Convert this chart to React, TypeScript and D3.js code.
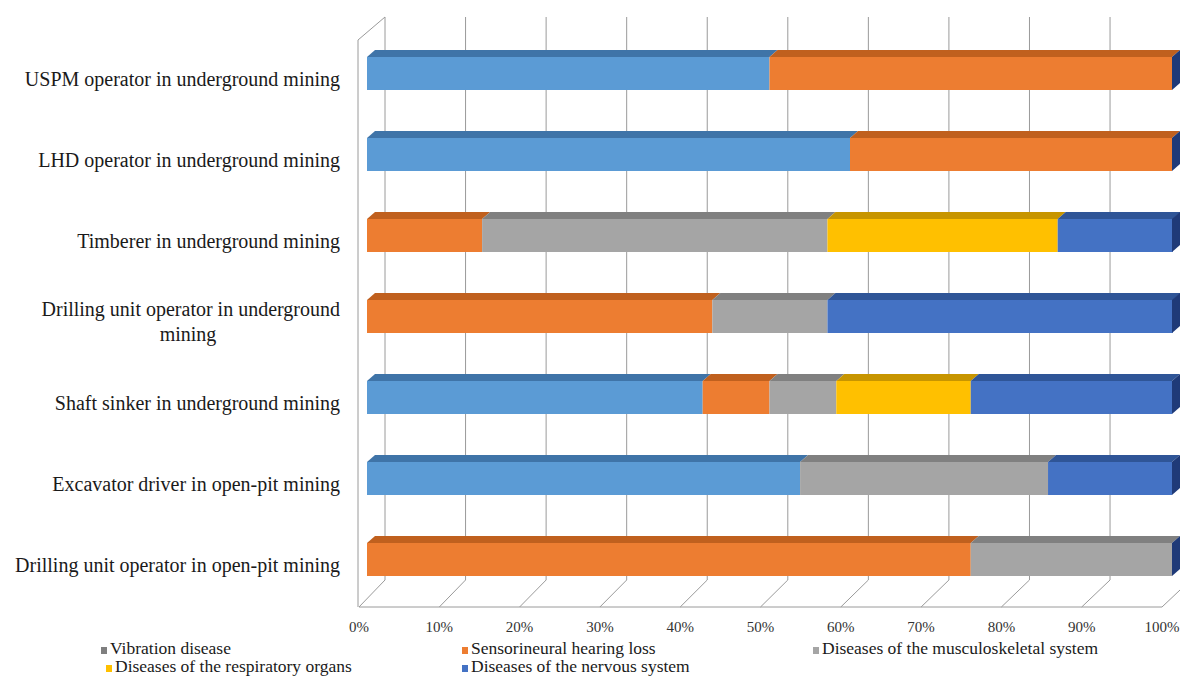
import React from "react";
import * as d3 from "d3";

const categories = [
  "USPM operator in underground mining",
  "LHD operator in underground mining",
  "Timberer in underground mining",
  "Drilling unit operator in underground mining",
  "Shaft sinker in underground mining",
  "Excavator driver in open-pit mining",
  "Drilling unit operator in open-pit mining",
];

const labelLines = [
  ["USPM operator in underground mining"],
  ["LHD operator in underground mining"],
  ["Timberer in underground mining"],
  ["Drilling unit operator in underground", "mining"],
  ["Shaft sinker in underground mining"],
  ["Excavator driver in open-pit mining"],
  ["Drilling unit operator in open-pit mining"],
];

const seriesNames = [
  "Vibration disease",
  "Sensorineural hearing loss",
  "Diseases of the musculoskeletal system",
  "Diseases of the respiratory organs",
  "Diseases of the nervous system",
];

const vibration = [50, 60, 0, 0, 41.7, 53.8, 0];
const hearing = [50, 40, 14.3, 42.9, 8.3, 0, 75];
const musculo = [0, 0, 42.9, 14.3, 8.3, 30.8, 25];
const respiratory = [0, 0, 28.6, 0, 16.7, 0, 0];
const nervous = [0, 0, 14.3, 42.9, 25, 15.4, 0];

const tickValues = [0, 10, 20, 30, 40, 50, 60, 70, 80, 90, 100];

const frontColors = ["#5B9BD5", "#ED7D31", "#A5A5A5", "#FFC000", "#4472C4"];
const topColors = ["#3F74A8", "#C0601E", "#808080", "#C79500", "#2F5597"];
const legendColors = ["#7F7F7F", "#ED7D31", "#A5A5A5", "#FFC000", "#4472C4"];

const SERIF = "Liberation Serif";

export default function App() {
  const W = 1180;
  const H = 677;

  const floorY = 607;
  const backFloorY = 580;
  const backTopY = 17;
  const xFront = d3.scaleLinear().domain([0, 100]).range([359, 1162]);
  const xBack = d3.scaleLinear().domain([0, 100]).range([385, 1190.6]);
  const xBar = d3.scaleLinear().domain([0, 100]).range([367, 1172]);
  const y = d3.scaleBand<number>().domain(d3.range(categories.length)).range([33, 600]).paddingInner(0);
  const barH = 33;
  const ddx = 8;
  const ddy = -7;

  const rows = categories.map((c, i) => ({
    idx: i,
    s0: vibration[i],
    s1: hearing[i],
    s2: musculo[i],
    s3: respiratory[i],
    s4: nervous[i],
  }));
  const keys = ["s0", "s1", "s2", "s3", "s4"];
  const stacked = d3.stack<any>().keys(keys)(rows);

  const gridColor = "#9a9a9a";
  const textStyle = { fontFamily: SERIF };

  return (
    <svg width={W} height={H} style={{ position: "absolute", left: 0, top: 0, background: "#fff" }}>
      {tickValues.map((t) => (
        <line key={"bg" + t} x1={xBack(t)} x2={xBack(t)} y1={backTopY} y2={backFloorY} stroke={gridColor} strokeWidth={1} />
      ))}
      {tickValues.map((t) => (
        <line key={"fd" + t} x1={xFront(t)} y1={floorY} x2={xBack(t)} y2={backFloorY} stroke={gridColor} strokeWidth={1} />
      ))}
      <line x1={xFront(0)} x2={xFront(100)} y1={floorY} y2={floorY} stroke={gridColor} strokeWidth={1} />
      <line x1={358} x2={358} y1={40} y2={floorY} stroke={gridColor} strokeWidth={1} />
      <line x1={358} y1={40} x2={xBack(0)} y2={backTopY} stroke={gridColor} strokeWidth={1} />

      {stacked.map((layer, si) =>
        layer.map((d, i) => {
          const v = d[1] - d[0];
          if (v <= 0) return null;
          const x0 = xBar(d[0]);
          const x1 = xBar(d[1]);
          const yc = (y(i) as number) + y.bandwidth() / 2;
          const yt = yc - barH / 2;
          const top = `M${x0},${yt} L${x1},${yt} L${x1 + ddx},${yt + ddy} L${x0 + ddx},${yt + ddy} Z`;
          return (
            <g key={si + "-" + i}>
              <path d={top} fill={topColors[si]} />
              <rect x={x0} y={yt} width={x1 - x0} height={barH} fill={frontColors[si]} />
            </g>
          );
        })
      )}
      {categories.map((c, i) => {
        const x1 = xBar(100);
        const yc = (y(i) as number) + y.bandwidth() / 2;
        const yt = yc - barH / 2;
        const yb = yt + barH;
        return (
          <path
            key={"end" + i}
            d={`M${x1},${yt} L${x1 + ddx},${yt + ddy} L${x1 + ddx},${yb + ddy} L${x1},${yb} Z`}
            fill="#1F3A78"
          />
        );
      })}

      {labelLines.map((lines, i) => {
        const yc = (y(i) as number) + y.bandwidth() / 2 + 7;
        const lh = 25;
        const start = yc - ((lines.length - 1) * lh) / 2;
        return (
          <text key={"lab" + i} style={textStyle} fontSize={20} fill="#1a1a1a" dominantBaseline="middle">
            {lines.map((ln, k) => (
              <tspan
                key={k}
                x={lines.length > 1 && k > 0 ? 188 : 340}
                y={start + k * lh}
                textAnchor={lines.length > 1 && k > 0 ? "middle" : "end"}
              >
                {ln}
              </tspan>
            ))}
          </text>
        );
      })}

      {tickValues.map((t) => (
        <text
          key={"tl" + t}
          x={xFront(t)}
          y={629}
          textAnchor="middle"
          dominantBaseline="middle"
          style={textStyle}
          fontSize={15}
          fill="#333"
        >
          {t + "%"}
        </text>
      ))}

      {seriesNames.map((n, i) => {
        const positions = [
          [101, 650],
          [462, 650],
          [813, 650],
          [106, 668],
          [462, 668],
        ];
        const [lx, ly] = positions[i];
        return (
          <g key={"lg" + i}>
            <rect x={lx} y={ly - 3} width={6} height={7} fill={legendColors[i]} />
            <text x={lx + 9} y={ly} dominantBaseline="middle" style={textStyle} fontSize={17.5} fill="#1a1a1a">
              {n}
            </text>
          </g>
        );
      })}
    </svg>
  );
}
